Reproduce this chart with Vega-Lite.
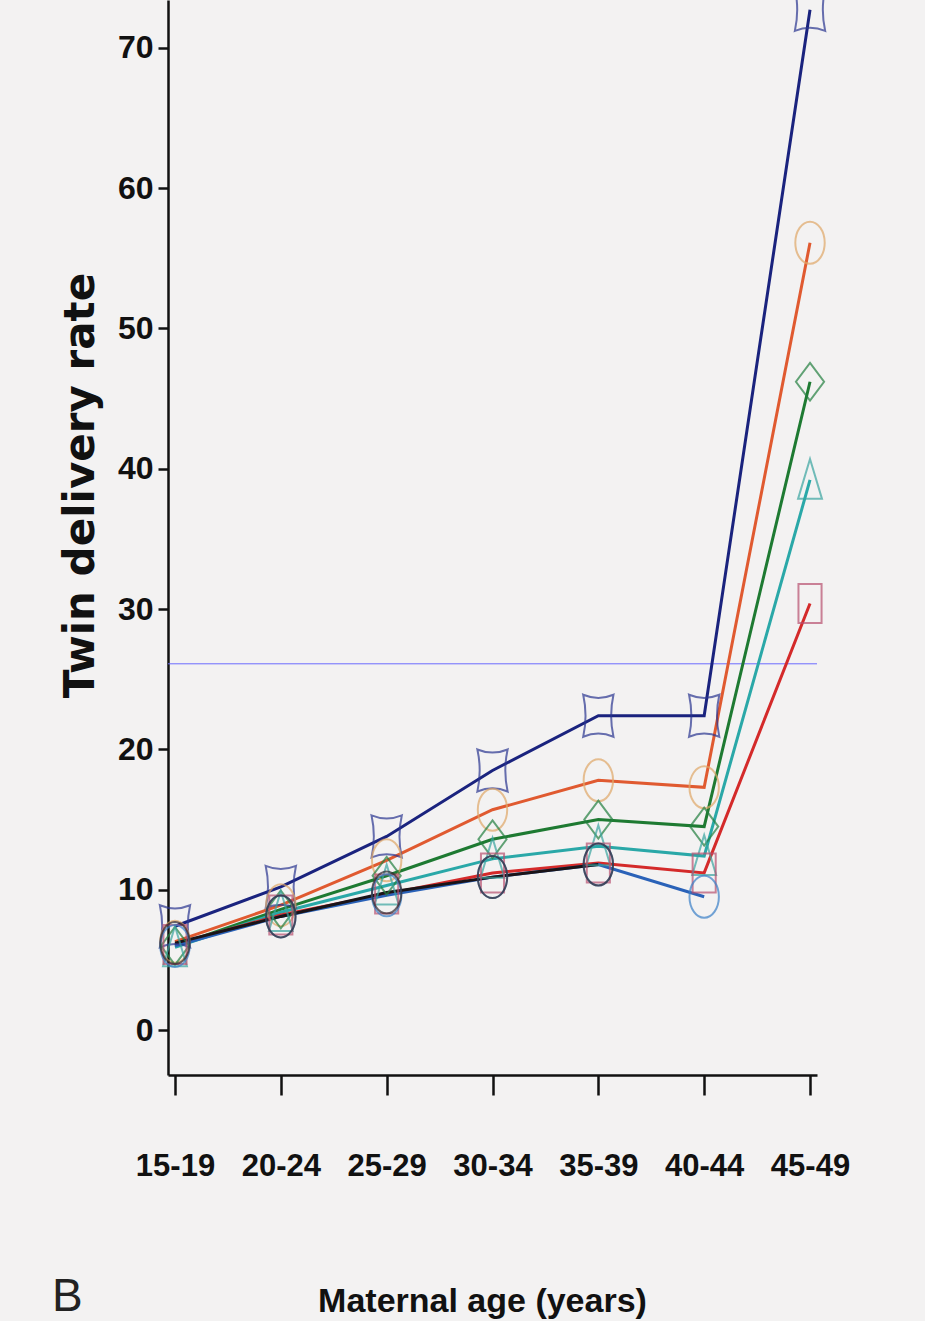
{
  "$schema": "https://vega.github.io/schema/vega-lite/v6.json",
  "width": 649,
  "height": 1075,
  "autosize": {"type": "none"},
  "padding": {"left": 168, "top": 0, "right": 108, "bottom": 246},
  "background": "#f3f2f2",
  "config": {"view": {"stroke": null}, "axis": {"grid": false}},
  "title": {
    "text": "B",
    "orient": "bottom",
    "anchor": "start",
    "frame": "group",
    "offset": 0,
    "dx": -116,
    "dy": -43,
    "font": "Liberation Sans",
    "fontSize": 46,
    "fontWeight": "normal",
    "color": "#222222"
  },
  "data": {
    "values": [
      {"series": "navy star", "age": "15-19", "rate": 7.4},
      {"series": "navy star", "age": "20-24", "rate": 10.2},
      {"series": "navy star", "age": "25-29", "rate": 13.8},
      {"series": "navy star", "age": "30-34", "rate": 18.5},
      {"series": "navy star", "age": "35-39", "rate": 22.4},
      {"series": "navy star", "age": "40-44", "rate": 22.4},
      {"series": "navy star", "age": "45-49", "rate": 72.7},
      {"series": "orange circle", "age": "15-19", "rate": 6.3},
      {"series": "orange circle", "age": "20-24", "rate": 8.9},
      {"series": "orange circle", "age": "25-29", "rate": 12.1},
      {"series": "orange circle", "age": "30-34", "rate": 15.7},
      {"series": "orange circle", "age": "35-39", "rate": 17.8},
      {"series": "orange circle", "age": "40-44", "rate": 17.3},
      {"series": "orange circle", "age": "45-49", "rate": 56.1},
      {"series": "green diamond", "age": "15-19", "rate": 6.0},
      {"series": "green diamond", "age": "20-24", "rate": 8.6},
      {"series": "green diamond", "age": "25-29", "rate": 11.0},
      {"series": "green diamond", "age": "30-34", "rate": 13.6},
      {"series": "green diamond", "age": "35-39", "rate": 15.0},
      {"series": "green diamond", "age": "40-44", "rate": 14.5},
      {"series": "green diamond", "age": "45-49", "rate": 46.2},
      {"series": "teal triangle", "age": "15-19", "rate": 5.9},
      {"series": "teal triangle", "age": "20-24", "rate": 8.4},
      {"series": "teal triangle", "age": "25-29", "rate": 10.3},
      {"series": "teal triangle", "age": "30-34", "rate": 12.2},
      {"series": "teal triangle", "age": "35-39", "rate": 13.1},
      {"series": "teal triangle", "age": "40-44", "rate": 12.4},
      {"series": "teal triangle", "age": "45-49", "rate": 39.2},
      {"series": "red square", "age": "15-19", "rate": 6.1},
      {"series": "red square", "age": "20-24", "rate": 8.2},
      {"series": "red square", "age": "25-29", "rate": 9.7},
      {"series": "red square", "age": "30-34", "rate": 11.2},
      {"series": "red square", "age": "35-39", "rate": 11.9},
      {"series": "red square", "age": "40-44", "rate": 11.2},
      {"series": "red square", "age": "45-49", "rate": 30.4},
      {"series": "blue circle", "age": "15-19", "rate": 6.0},
      {"series": "blue circle", "age": "20-24", "rate": 8.1},
      {"series": "blue circle", "age": "25-29", "rate": 9.6},
      {"series": "blue circle", "age": "30-34", "rate": 10.9},
      {"series": "blue circle", "age": "35-39", "rate": 11.8},
      {"series": "blue circle", "age": "40-44", "rate": 9.5},
      {"series": "black circle", "age": "15-19", "rate": 6.2},
      {"series": "black circle", "age": "20-24", "rate": 8.1},
      {"series": "black circle", "age": "25-29", "rate": 9.8},
      {"series": "black circle", "age": "30-34", "rate": 10.9},
      {"series": "black circle", "age": "35-39", "rate": 11.8}
    ]
  },
  "layer": [
    {
      "data": {"values": [{"level": 26.1}]},
      "mark": {"type": "rule", "color": "#6b6bff", "strokeWidth": 1},
      "encoding": {"y": {"field": "level", "type": "quantitative"}}
    },
    {
      "mark": {"type": "line", "strokeWidth": 3},
      "encoding": {
        "x": {
          "field": "age",
          "type": "ordinal",
          "scale": {"type": "point", "domain": ["15-19", "20-24", "25-29", "30-34", "35-39", "40-44", "45-49"], "padding": 0.066},
          "axis": {
            "labelAngle": 0,
            "labelFont": "Liberation Sans",
            "labelFontSize": 31,
            "labelFontWeight": "bold",
            "labelColor": "#111111",
            "labelPadding": 56,
            "tickSize": 20,
            "tickWidth": 2.5,
            "tickColor": "#111111",
            "domainColor": "#111111",
            "domainWidth": 2.5,
            "title": "Maternal age (years)",
            "titleFont": "Liberation Sans",
            "titleFontSize": 34,
            "titleFontWeight": "bold",
            "titleColor": "#111111",
            "titleX": 314,
            "titleY": 236,
            "titleBaseline": "alphabetic"
          }
        },
        "y": {
          "field": "rate",
          "type": "quantitative",
          "scale": {"domain": [-3.2, 73.4], "nice": false, "zero": false},
          "axis": {
            "values": [0, 10, 20, 30, 40, 50, 60, 70],
            "labelFont": "Liberation Sans",
            "labelFontSize": 32,
            "labelFontWeight": "bold",
            "labelColor": "#111111",
            "labelPadding": 5,
            "tickSize": 10,
            "tickWidth": 2.5,
            "tickColor": "#111111",
            "domainColor": "#111111",
            "domainWidth": 2.5,
            "title": "Twin delivery rate",
            "titleFont": "DejaVu Sans",
            "titleFontSize": 42,
            "titleFontWeight": "bold",
            "titleColor": "#111111",
            "titleAngle": -90,
            "titleBaseline": "bottom",
            "titleX": -66,
            "titleY": 485
          }
        },
        "color": {
          "field": "series",
          "type": "nominal",
          "legend": null,
          "scale": {
            "domain": ["navy star", "orange circle", "green diamond", "teal triangle", "red square", "blue circle", "black circle"],
            "range": ["#1a237e", "#e05a30", "#1e7a32", "#2aa8a8", "#d42a2a", "#2a62b8", "#1a1418"]
          }
        }
      }
    },
    {
      "mark": {"type": "point", "filled": false, "strokeWidth": 2, "size": 1764},
      "encoding": {
        "x": {"field": "age", "type": "ordinal"},
        "y": {"field": "rate", "type": "quantitative"},
        "shape": {
          "field": "series",
          "type": "nominal",
          "legend": null,
          "scale": {
            "domain": ["navy star", "orange circle", "green diamond", "teal triangle", "red square", "blue circle", "black circle"],
            "range": [
              "M-0.72,-1Q0,-0.7,0.72,-1Q0.5,0,0.72,1Q0,0.7,-0.72,1Q-0.5,0,-0.72,-1Z",
              "M0,-1A0.7,1,0,1,1,0,1A0.7,1,0,1,1,0,-1Z",
              "M0,-0.9L0.67,0L0,0.9L-0.67,0Z",
              "M0,-1L0.57,0.9L-0.57,0.9Z",
              "M-0.55,-0.93L0.55,-0.93L0.55,0.93L-0.55,0.93Z",
              "M0,-1A0.7,1,0,1,1,0,1A0.7,1,0,1,1,0,-1Z",
              "M0,-1A0.7,1,0,1,1,0,1A0.7,1,0,1,1,0,-1Z"
            ]
          }
        },
        "stroke": {
          "field": "series",
          "type": "nominal",
          "legend": null,
          "scale": {
            "domain": ["navy star", "orange circle", "green diamond", "teal triangle", "red square", "blue circle", "black circle"],
            "range": ["#2a3590", "#e0a868", "#238040", "#3aa5a0", "#b85070", "#3a80c8", "#302830"]
          }
        }
      }
    }
  ]
}
